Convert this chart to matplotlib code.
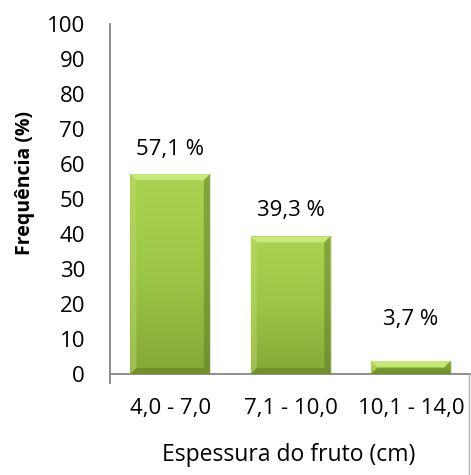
import matplotlib
matplotlib.use("Agg")
import matplotlib.pyplot as plt
import numpy as np
from matplotlib.lines import Line2D
from matplotlib.colors import LinearSegmentedColormap

categories = ["4,0 - 7,0", "7,1 - 10,0", "10,1 - 14,0"]
frequencies = [57.1, 39.3, 3.7]
value_labels = ["57,1 %", "39,3 %", "3,7 %"]
yticks = [0, 10, 20, 30, 40, 50, 60, 70, 80, 90, 100]

plt.rcParams["font.family"] = ["Open Sans", "DejaVu Sans"]
FS = 16

W, H = 471, 475
fig = plt.figure(figsize=(W / 100, H / 100), dpi=100)
ax = fig.add_axes([110 / W, 101 / H, 361 / W, 350 / H])
ax.set_xlim(-0.5, 2.5)
ax.set_ylim(0, 100)

axis_color = "#868686"
for s in ("top", "right"):
    ax.spines[s].set_visible(False)
for s in ("left", "bottom"):
    ax.spines[s].set_color(axis_color)
    ax.spines[s].set_linewidth(1.3)

ax.set_yticks(yticks)
ax.set_yticklabels([str(v) for v in yticks])
ax.set_xticks(range(len(categories)))
ax.set_xticklabels(categories)
ax.tick_params(axis="y", length=0, pad=18, labelsize=FS, colors="black")
ax.tick_params(axis="x", length=0, pad=17.5, labelsize=FS, colors="black")

bar_w = 0.66
grad = LinearSegmentedColormap.from_list("g", ["#86a738", "#9dc646", "#abd352"])
px_x = 361 / 3.0   # pixels per category unit
px_y = 350 / 100.0  # pixels per percent

for i, v in enumerate(frequencies):
    x0, x1 = i - bar_w / 2, i + bar_w / 2
    # soft shadow
    ax.bar(i + 1.5 / px_x, v, width=bar_w, bottom=0, color="#000000", alpha=0.12,
           zorder=1, linewidth=0)
    bar = ax.bar(i, v, width=bar_w, color="#98c043", linewidth=0, zorder=2)[0]
    img = ax.imshow(np.linspace(0, 1, 256).reshape(-1, 1), cmap=grad,
                    extent=[x0, x1, 0, v], origin="lower", aspect="auto", zorder=3)
    img.set_clip_path(bar)
    # bevel edges
    bx = min(6 / px_x, (x1 - x0) / 2)
    by = min(6 / px_y, v / 2)
    ax.fill([x0, x1, x1 - bx, x0 + bx], [v, v, v - by, v - by],
            color="#d2f08a", alpha=0.75, linewidth=0, zorder=4)
    ax.fill([x0, x0 + bx, x0 + bx, x0], [0, by, v - by, v],
            color="#b9de6a", alpha=0.45, linewidth=0, zorder=4)
    ax.fill([x1, x1 - bx, x1 - bx, x1], [0, by, v - by, v],
            color="#5f7a22", alpha=0.5, linewidth=0, zorder=4)
    ax.fill([x0, x1, x1 - bx, x0 + bx], [0, 0, by, by],
            color="#5f7a22", alpha=0.55, linewidth=0, zorder=4)

offsets = [7.0, 7.5, 12.0]
for i, (v, lab) in enumerate(zip(frequencies, value_labels)):
    ax.text(i, v + offsets[i], lab, ha="center", va="center", fontsize=FS)

ax.set_xlim(-0.5, 2.5)
ax.set_ylim(0, 100)

# left axis stub below zero and right frame edge
fig.add_artist(Line2D([110 / W, 110 / W], [(H - 383) / H, (H - 374) / H],
                      color=axis_color, linewidth=1.3))
fig.add_artist(Line2D([469 / W, 469 / W], [0, (H - 374) / H],
                      color="#b0b0b0", linewidth=1.0))

fig.text(25 / W, 1 - 183 / H, "Frequência (%)", rotation=90, ha="center",
         va="center", fontsize=14, fontweight="bold")
fig.text(289 / W, 1 - 455 / H, "Espessura do fruto (cm)", ha="center",
         va="center", fontsize=16.5)

fig.savefig("out.png", dpi=100)
